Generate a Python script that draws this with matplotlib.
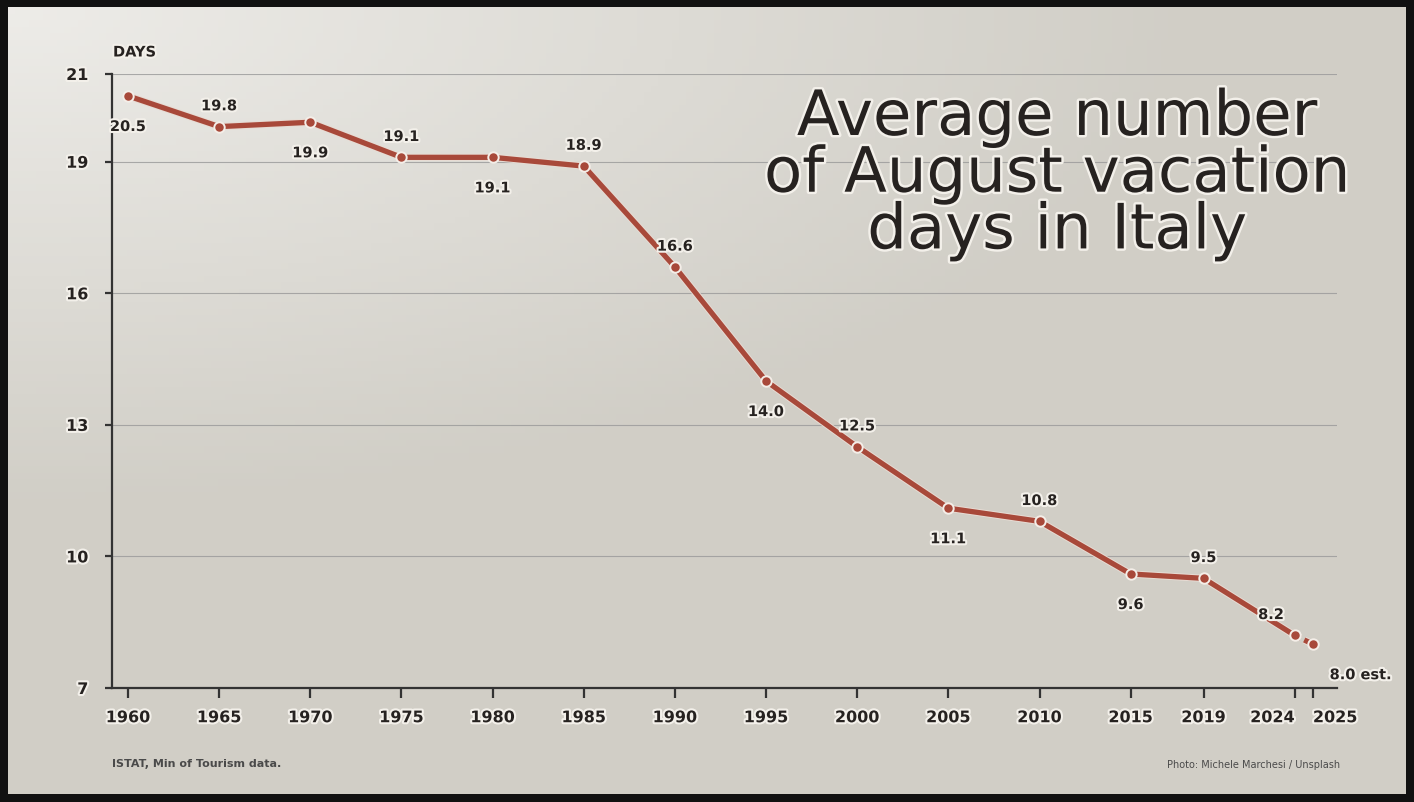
import numpy as np
import matplotlib
matplotlib.use("Agg")
import matplotlib.pyplot as plt
import matplotlib.patheffects as pe

# data
years = [1960, 1965, 1970, 1975, 1980, 1985, 1990, 1995, 2000, 2005, 2010, 2015, 2019, 2024, 2025]
days = [20.5, 19.8, 19.9, 19.1, 19.1, 18.9, 16.6, 14.0, 12.5, 11.1, 10.8, 9.6, 9.5, 8.2, 8.0]
labels = ["20.5", "19.8", "19.9", "19.1", "19.1", "18.9", "16.6", "14.0", "12.5",
          "11.1", "10.8", "9.6", "9.5", "8.2", "8.0 est."]
# label placement: 1 above, -1 below
side = [-1, 1, -1, 1, -1, 1, 1, -1, 1, -1, 1, -1, 1, 1, -1]
yticks = [7, 10, 13, 16, 19, 21]

red = "#a8493a"
dark = "#262220"
halo = "#f3f0ea"

fig = plt.figure(figsize=(14.14, 8.03), dpi=100)
fig.patch.set_facecolor("#111111")

# background panel (stand-in for the beach photo)
bg = fig.add_axes([8 / 1414, 8 / 803, 1398 / 1414, 787 / 803])
gx, gy = np.meshgrid(np.linspace(0, 1, 200), np.linspace(0, 1, 120))
grad = np.clip(1 - np.hypot(gx * 1.2, gy * 1.6), 0, 1)
c0 = np.array([0.82, 0.81, 0.78])
c1 = np.array([0.93, 0.925, 0.91])
img = c0 + (c1 - c0) * grad[..., None]
bg.imshow(img, aspect="auto", extent=[0, 1, 0, 1], origin="upper")
bg.set_axis_off()

ax = fig.add_axes([112 / 1414, 114 / 803, 1225 / 1414, 614 / 803])
ax.set_facecolor("none")
ax.set_xlim(1959.12, 2026.32)
ax.set_ylim(7, 21)

ax.set_yticks(yticks)
ax.set_xticks(years)
ax.grid(axis="y", color="#999999", lw=0.8, alpha=0.8)
ax.set_axisbelow(True)
for s in ["top", "right"]:
    ax.spines[s].set_visible(False)
for s in ["left", "bottom"]:
    ax.spines[s].set_color("#333333")
    ax.spines[s].set_linewidth(1.6)
ax.tick_params(axis="y", length=5, width=1.6, color="#333333", pad=12)
ax.tick_params(axis="x", length=7, width=1.6, color="#333333", pad=9)

stroke = [pe.withStroke(linewidth=3, foreground=halo)]
for t in ax.get_xticklabels() + ax.get_yticklabels():
    t.set_fontsize(11.5)
    t.set_fontweight("bold")
    t.set_color(dark)
    t.set_path_effects(stroke)
# the last two years sit close together: push their labels apart
xt = ax.get_xticklabels()
xt[-2].set_ha("right")
xt[-1].set_ha("left")

line_fx = [pe.Stroke(linewidth=5.2, foreground="#e8dcd4"), pe.Normal()]
ax.plot(years[:-1], days[:-1], color=red, lw=3.8, solid_capstyle="round",
        path_effects=line_fx, zorder=3)
ax.plot(years[-2:], days[-2:], color=red, lw=3.8, ls=(0, (1.2, 0.8)),
        path_effects=line_fx, zorder=3)
ax.plot(years, days, "o", ms=7.5, mfc=red, mec="#f4eee8", mew=1.4, zorder=4)

for i, (x, y, lab) in enumerate(zip(years, days, labels)):
    dx, dy = 0, (15 if side[i] > 0 else -22)
    ha = "center"
    if lab == "8.2":
        dx = -17
    if lab == "8.0 est.":
        dx, ha = 12, "left"
    ax.annotate(lab, (x, y), xytext=(dx, dy), textcoords="offset points",
                ha=ha, va="center", fontsize=10.5, fontweight="bold", color=dark,
                path_effects=stroke, zorder=5)

fig.text(113 / 1414, 1 - 53 / 803, "DAYS", fontsize=10.5, fontweight="bold",
         color=dark, va="center", path_effects=stroke)

fig.text(1057 / 1414, 1 - 89 / 803, "Average number\nof August vacation\ndays in Italy",
         ha="center", va="top", fontsize=45, color=dark, linespacing=0.93,
         path_effects=[pe.withStroke(linewidth=3.5, foreground=halo)])

fig.text(112 / 1414, 1 - 764 / 803, "ISTAT, Min of Tourism data.", fontsize=8,
         fontweight="bold", color="#4a4a4a", va="center")
fig.text(1340 / 1414, 1 - 765 / 803, "Photo: Michele Marchesi / Unsplash", fontsize=7,
         color="#4a4a4a", ha="right", va="center")

fig.savefig("out.png", dpi=100, facecolor=fig.get_facecolor())
